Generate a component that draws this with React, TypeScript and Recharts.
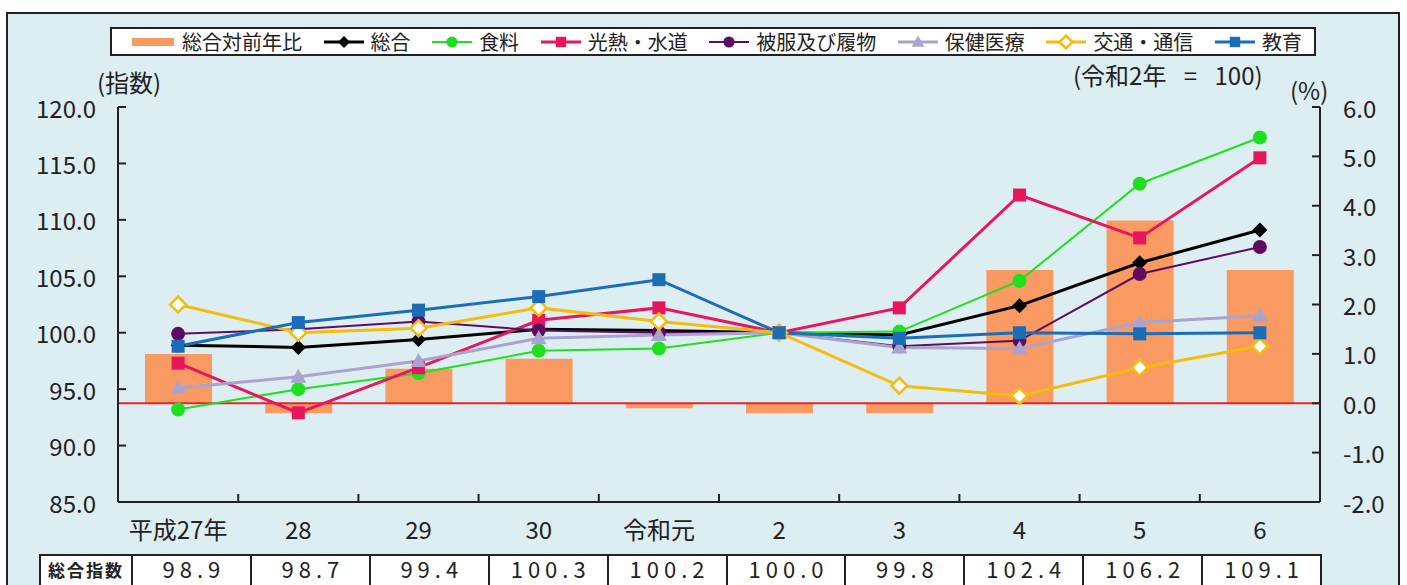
import React from 'react';
import { ComposedChart, Bar, Line, XAxis, YAxis, ReferenceLine } from 'recharts';

const years = ['平成27年', '28', '29', '30', '令和元', '2', '3', '4', '5', '6'];
// 総合対前年比 (%)
const yoyRate = [1.0, -0.2, 0.7, 0.9, -0.1, -0.2, -0.2, 2.7, 3.7, 2.7];
// 指数 (令和2年 = 100)
const sogo = [98.9, 98.7, 99.4, 100.3, 100.2, 100.0, 99.8, 102.4, 106.2, 109.1];
const shokuryo = [93.2, 95.0, 96.4, 98.4, 98.6, 100.0, 100.1, 104.6, 113.2, 117.3];
const kounetsu = [97.3, 92.9, 96.9, 101.1, 102.2, 100.0, 102.2, 112.2, 108.4, 115.5];
const hifuku = [99.9, 100.3, 101.0, 100.2, 100.0, 100.0, 98.8, 99.3, 105.2, 107.6];
const hoken = [95.1, 96.1, 97.5, 99.5, 99.8, 100.0, 98.7, 98.6, 100.9, 101.5];
const kotsu = [102.5, 100.0, 100.4, 102.2, 101.0, 100.0, 95.3, 94.4, 96.9, 98.8];
const kyoiku = [98.8, 100.9, 102.0, 103.2, 104.7, 100.0, 99.5, 100.0, 99.9, 100.0];

const leftTicks = [85, 90, 95, 100, 105, 110, 115, 120];
const rightTicks = [-2, -1, 0, 1, 2, 3, 4, 5, 6];

type Shape = 'diamond' | 'circle' | 'square' | 'triangle' | 'openDiamond';

const series: { key: string; name: string; values: number[]; color: string; width: number; shape: Shape }[] = [
  { key: 'sogo', name: '総合', values: sogo, color: '#000000', width: 3, shape: 'diamond' },
  { key: 'shokuryo', name: '食料', values: shokuryo, color: '#1EE01E', width: 2, shape: 'circle' },
  { key: 'kounetsu', name: '光熱・水道', values: kounetsu, color: '#E8175D', width: 3, shape: 'square' },
  { key: 'hifuku', name: '被服及び履物', values: hifuku, color: '#5E0B62', width: 2, shape: 'circle' },
  { key: 'hoken', name: '保健医療', values: hoken, color: '#A9A3CD', width: 3, shape: 'triangle' },
  { key: 'kotsu', name: '交通・通信', values: kotsu, color: '#F4BC0C', width: 3, shape: 'openDiamond' },
  { key: 'kyoiku', name: '教育', values: kyoiku, color: '#1C6DB8', width: 3, shape: 'square' },
];

const data = years.map((year, i) => {
  const row: Record<string, string | number> = { year, rate: yoyRate[i] };
  series.forEach((s) => {
    row[s.key] = s.values[i];
  });
  return row;
});

const FONT = '"Noto Sans CJK JP", "Noto Sans", sans-serif';
const INK = '#222';
const BAR_COLOR = '#F99A62';

const Mark = ({ cx, cy, shape, color, k = 1 }: { cx: number; cy: number; shape: Shape; color: string; k?: number }) => {
  if (cx == null || cy == null) return null;
  switch (shape) {
    case 'circle':
      return <circle cx={cx} cy={cy} r={7 * k} fill={color} />;
    case 'square':
      return <rect x={cx - 6.5 * k} y={cy - 6.5 * k} width={13 * k} height={13 * k} fill={color} />;
    case 'triangle': {
      const s = 8 * k;
      return <polygon points={`${cx},${cy - s} ${cx + s},${cy + s * 0.75} ${cx - s},${cy + s * 0.75}`} fill={color} />;
    }
    case 'diamond': {
      const s = 7.5 * k;
      return <polygon points={`${cx},${cy - s} ${cx + s},${cy} ${cx},${cy + s} ${cx - s},${cy}`} fill={color} />;
    }
    case 'openDiamond': {
      const s = 8 * k;
      return (
        <polygon
          points={`${cx},${cy - s} ${cx + s},${cy} ${cx},${cy + s} ${cx - s},${cy}`}
          fill="#fff"
          stroke={color}
          strokeWidth={2.5}
        />
      );
    }
  }
  return null;
};

const LeftTick = (p: any) => (
  <g>
    <line x1={p.x} x2={p.x + 8} y1={p.y} y2={p.y} stroke={INK} strokeWidth={2} />
    <text x={p.x - 22} y={p.y} textAnchor="end" dominantBaseline="central" fontSize={24} fill={INK} fontFamily={FONT}>
      {Number(p.payload.value).toFixed(1)}
    </text>
  </g>
);

const RightTick = (p: any) => (
  <g>
    <line x1={p.x - 8} x2={p.x} y1={p.y} y2={p.y} stroke={INK} strokeWidth={2} />
    <text x={p.x + 23} y={p.y} textAnchor="start" dominantBaseline="central" fontSize={24} fill={INK} fontFamily={FONT}>
      {Number(p.payload.value).toFixed(1)}
    </text>
  </g>
);

const XTick = (p: any) => {
  const half = p.payload && p.payload.offset ? p.payload.offset : 60.1;
  const last = p.index === years.length - 1;
  return (
    <g>
      {!last && <line x1={p.x + half} x2={p.x + half} y1={p.y} y2={p.y - 8} stroke={INK} strokeWidth={2} />}
      <text x={p.x} y={p.y + 26} textAnchor="middle" dominantBaseline="central" fontSize={24} fill={INK} fontFamily={FONT}>
        {p.payload.value}
      </text>
    </g>
  );
};

const LegendBox = () => (
  <div
    style={{
      position: 'absolute',
      left: 110,
      top: 27,
      width: 1206,
      height: 29,
      boxSizing: 'border-box',
      border: `2px solid ${INK}`,
      background: '#fff',
      display: 'flex',
      alignItems: 'center',
      justifyContent: 'space-between',
      padding: '0 12px 0 20px',
      fontFamily: FONT,
      fontSize: 20,
      color: INK,
      lineHeight: 1,
    }}
  >
    <div style={{ display: 'flex', alignItems: 'center' }}>
      <svg width={42} height={20}>
        <rect x={0} y={6} width={42} height={8} fill={BAR_COLOR} />
      </svg>
      <span style={{ marginLeft: 8 }}>総合対前年比</span>
    </div>
    {series.map((s) => (
      <div key={s.key} style={{ display: 'flex', alignItems: 'center' }}>
        <svg width={40} height={20}>
          <line x1={0} x2={40} y1={10} y2={10} stroke={s.color} strokeWidth={s.width} />
          <Mark cx={20} cy={10} shape={s.shape} color={s.color} k={0.8} />
        </svg>
        <span style={{ marginLeft: 7 }}>{s.name}</span>
      </div>
    ))}
  </div>
);

const labelStyle: React.CSSProperties = {
  position: 'absolute',
  fontFamily: FONT,
  fontSize: 24,
  color: INK,
  lineHeight: 1,
  whiteSpace: 'nowrap',
};

const IndexTable = () => (
  <div
    style={{
      position: 'absolute',
      left: 39,
      top: 554,
      width: 1283,
      height: 60,
      boxSizing: 'border-box',
      border: `2px solid ${INK}`,
      background: '#fff',
      display: 'flex',
      fontFamily: FONT,
      color: INK,
    }}
  >
    <div
      style={{
        flex: '0 0 90px',
        fontSize: 17,
        lineHeight: '17px',
        fontWeight: 700,
        letterSpacing: 2,
        textAlign: 'center',
        paddingTop: 5,
      }}
    >
      総合指数
    </div>
    {sogo.map((v, i) => (
      <div
        key={i}
        style={{
          flex: 1,
          borderLeft: `2px solid ${INK}`,
          fontSize: 22,
          lineHeight: '22px',
          letterSpacing: 5,
          textAlign: 'center',
          paddingTop: 1,
          paddingLeft: 5,
        }}
      >
        {v.toFixed(1)}
      </div>
    ))}
  </div>
);

export default function App() {
  return (
    <div style={{ position: 'absolute', left: 0, top: 0, width: 1407, height: 585, overflow: 'hidden', background: '#fff' }}>
      <div
        style={{
          position: 'absolute',
          left: 6,
          top: 12,
          width: 1394,
          height: 620,
          boxSizing: 'border-box',
          border: `2px solid ${INK}`,
          background: '#DDEEF3',
        }}
      />
      <div style={{ position: 'absolute', left: 0, top: 0 }}>
        <ComposedChart width={1407} height={545} data={data} margin={{ top: 107, right: 0, bottom: 3, left: 0 }}>
          <XAxis
            dataKey="year"
            height={40}
            interval={0}
            tickSize={0}
            tickMargin={0}
            tickLine={false}
            axisLine={{ stroke: INK, strokeWidth: 2 }}
            tick={<XTick />}
          />
          <YAxis
            yAxisId="left"
            orientation="left"
            width={118}
            domain={[85, 120]}
            ticks={leftTicks}
            tickSize={0}
            tickMargin={0}
            tickLine={false}
            axisLine={{ stroke: INK, strokeWidth: 2 }}
            tick={<LeftTick />}
          />
          <YAxis
            yAxisId="right"
            orientation="right"
            width={87}
            domain={[-2, 6]}
            ticks={rightTicks}
            tickSize={0}
            tickMargin={0}
            tickLine={false}
            axisLine={{ stroke: INK, strokeWidth: 2 }}
            tick={<RightTick />}
          />
          <Bar yAxisId="right" dataKey="rate" name="総合対前年比" fill={BAR_COLOR} barSize={67} isAnimationActive={false} />
          <ReferenceLine yAxisId="right" y={0} stroke="#E3262A" strokeWidth={2} />
          {series.map((s) => (
            <Line
              key={s.key}
              yAxisId="left"
              type="linear"
              dataKey={s.key}
              name={s.name}
              stroke={s.color}
              strokeWidth={s.width}
              isAnimationActive={false}
              dot={(p: any) => <Mark key={`${s.key}-${p.index}`} cx={p.cx} cy={p.cy} shape={s.shape} color={s.color} />}
              activeDot={false}
            />
          ))}
        </ComposedChart>
      </div>
      <LegendBox />
      <div style={{ ...labelStyle, left: 97, top: 70 }}>(指数)</div>
      <div style={{ ...labelStyle, left: 1073, top: 63, fontSize: 24, wordSpacing: 12 }}>(令和2年 = 100)</div>
      <div style={{ ...labelStyle, left: 1290, top: 78 }}>(%)</div>
      <IndexTable />
    </div>
  );
}
